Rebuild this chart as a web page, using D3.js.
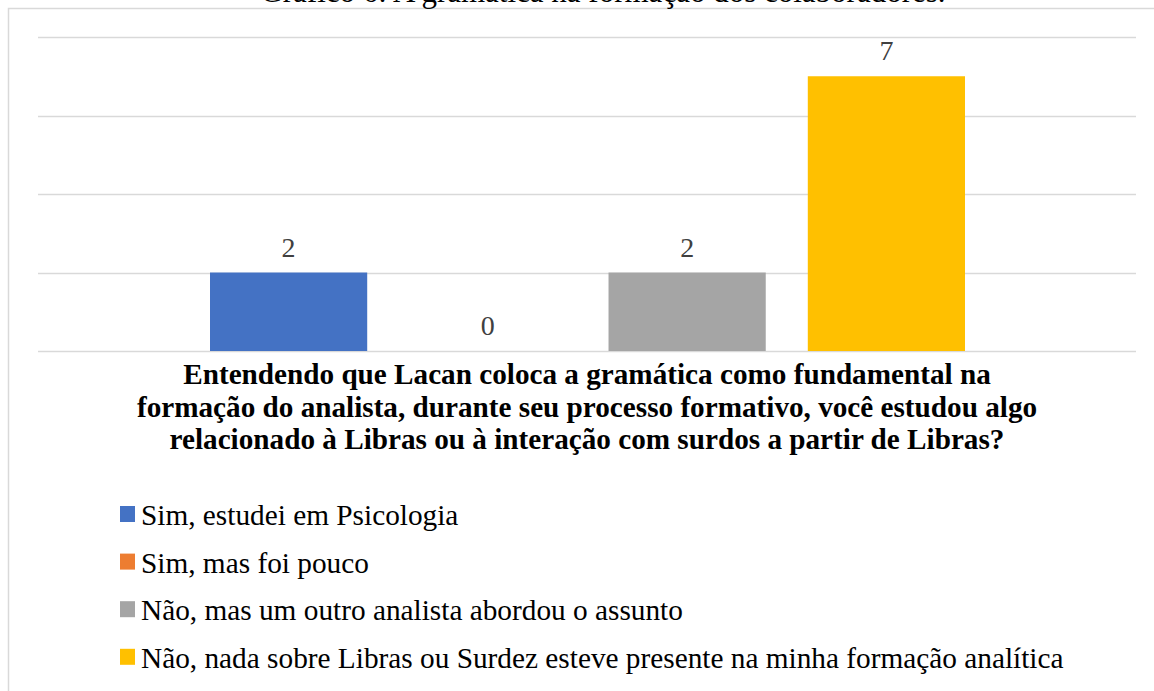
<!DOCTYPE html>
<html>
<head>
<meta charset="utf-8">
<script src="https://cdn.jsdelivr.net/npm/d3@7"></script>
<style>
  html, body { margin: 0; padding: 0; background: #fff; }
  svg { display: block; }
</style>
</head>
<body>
<svg id="chart" width="1154" height="691"></svg>
<script>
const chartTitle = "Gráfico 6: A gramática na formação dos colaboradores.";
const axisTitleLines = [
  "Entendendo que Lacan coloca a gramática como fundamental na",
  "formação do analista, durante seu processo formativo, você estudou algo",
  "relacionado à Libras ou à interação com surdos a partir de Libras?"
];
const seriesNames = [
  "Sim, estudei em Psicologia",
  "Sim, mas foi pouco",
  "Não, mas um outro analista abordou o assunto",
  "Não, nada sobre Libras ou Surdez esteve presente na minha formação analítica"
];
const seriesValues = [2, 0, 2, 7];
const seriesColors = ["#4472C4", "#ED7D31", "#A5A5A5", "#FFC000"];
const yTicks = [0, 2, 4, 6, 8];

const svg = d3.select("#chart");
const serif = "'Liberation Serif', 'Times New Roman', serif";

// frame
svg.append("path")
  .attr("d", "M8.5,700 L8.5,8.5 L1160,8.5")
  .attr("fill", "none").attr("stroke", "#d9d9d9").attr("stroke-width", 1.5);

// title (partially cut off at top, as in the reference)
svg.append("text")
  .attr("x", 603).attr("y", 2)
  .attr("text-anchor", "middle")
  .attr("font-family", serif).attr("font-size", 31)
  .attr("fill", "#000")
  .text(chartTitle);

const plotLeft = 38, plotRight = 1136;
const y = d3.scaleLinear().domain([0, 8]).range([351, 37]);
const x = d3.scaleBand().domain(seriesNames).range([210, 965]).paddingInner(42 / 199).paddingOuter(0);

// gridlines
svg.append("g").selectAll("line").data(yTicks).join("line")
  .attr("x1", plotLeft).attr("x2", plotRight)
  .attr("y1", d => Math.round(y(d)) + 0.5).attr("y2", d => Math.round(y(d)) + 0.5)
  .attr("stroke", "#d9d9d9").attr("stroke-width", 1.5);

// bars
const data = seriesNames.map((n, i) => ({ name: n, value: seriesValues[i], color: seriesColors[i] }));
svg.append("g").selectAll("rect").data(data).join("rect")
  .attr("x", d => x(d.name))
  .attr("width", x.bandwidth())
  .attr("y", d => y(d.value))
  .attr("height", d => y(0) - y(d.value))
  .attr("fill", d => d.color);

// data labels
svg.append("g").selectAll("text").data(data).join("text")
  .attr("x", d => x(d.name) + x.bandwidth() / 2)
  .attr("y", d => y(d.value) - 16)
  .attr("text-anchor", "middle")
  .attr("font-family", serif).attr("font-size", 28)
  .attr("fill", "#404040")
  .text(d => d.value);

// axis title
svg.append("g").selectAll("text").data(axisTitleLines).join("text")
  .attr("x", 587)
  .attr("y", (d, i) => 384 + i * 32.5)
  .attr("text-anchor", "middle")
  .attr("font-family", serif).attr("font-size", 29.2).attr("font-weight", "bold")
  .attr("fill", "#000")
  .text(d => d);

// legend
const leg = svg.append("g").selectAll("g").data(data).join("g")
  .attr("transform", (d, i) => `translate(120, ${525 + i * 47.6})`);
leg.append("rect")
  .attr("x", 0).attr("y", -19).attr("width", 15).attr("height", 16)
  .attr("fill", d => d.color);
leg.append("text")
  .attr("x", 21).attr("y", 0)
  .attr("font-family", serif).attr("font-size", 29.3)
  .attr("fill", "#000")
  .text(d => d.name);
</script>
</body>
</html>
